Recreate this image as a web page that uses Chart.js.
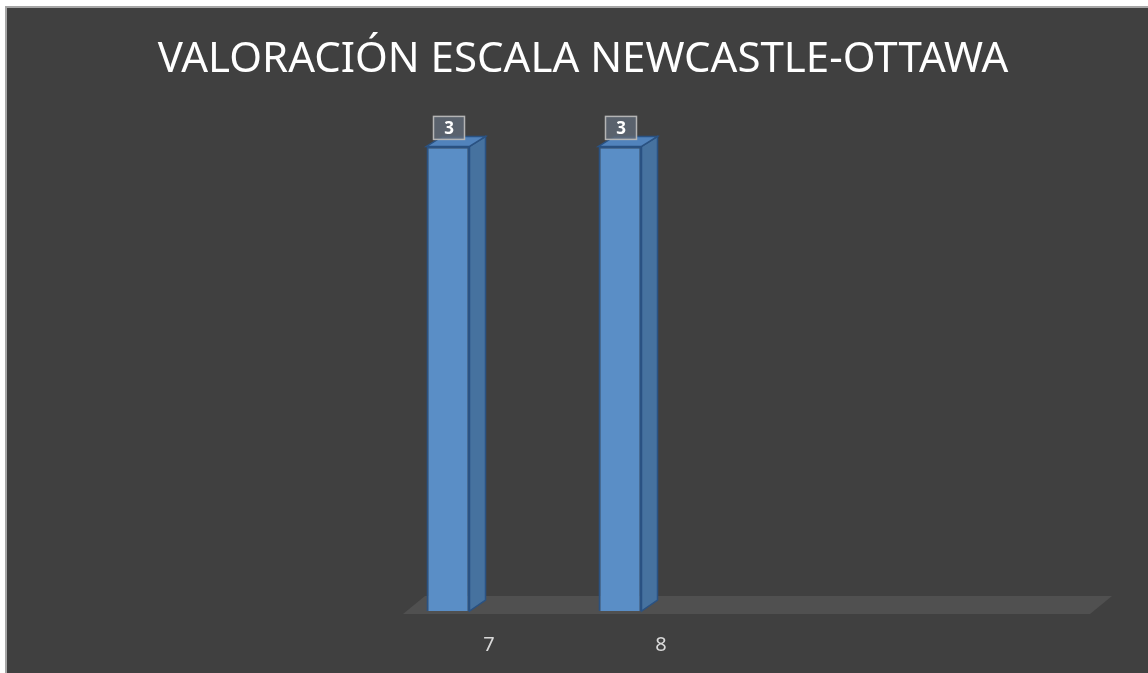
<!DOCTYPE html>
<html>
<head>
<meta charset="utf-8">
<script src="https://cdn.jsdelivr.net/npm/chart.js@4.4.1/dist/chart.umd.min.js"></script>
<style>
  html, body { margin: 0; padding: 0; background: #ffffff; }
  #wrap { position: absolute; left: 0; top: 0; width: 1148px; height: 673px; }
</style>
</head>
<body>
<div id="wrap"><canvas id="grafica-nos" width="1148" height="673"></canvas></div>
<script>
// Datos
var categorias = ['7', '8', '', ''];
var puntuacion = [3, 3, null, null];
var tituloTexto = 'VALORACIÓN ESCALA NEWCASTLE-OTTAWA';

// Fondo oscuro, suelo 3D, caras laterales y etiquetas de valor
var efecto3D = {
    id: 'efecto3D',
    beforeDraw: function (chart) {
        var c = chart.ctx;
        c.save();
        c.fillStyle = '#ffffff';
        c.fillRect(0, 0, chart.width, chart.height);
        c.fillStyle = '#a6a6a6';
        c.fillRect(5, 6, chart.width - 5, chart.height - 6);
        c.fillStyle = '#404040';
        c.fillRect(7, 8, chart.width - 7, chart.height - 8);
        c.restore();
    },
    beforeDatasetsDraw: function (chart) {
        var c = chart.ctx;
        var a = chart.chartArea;
        var base = chart.scales.y.getPixelForValue(0);
        c.save();
        // suelo
        c.fillStyle = '#505050';
        c.beginPath();
        c.moveTo(a.left + 41, base + 3);
        c.lineTo(a.left + 63, base - 15);
        c.lineTo(a.right + 62, base - 15);
        c.lineTo(a.right + 40, base + 3);
        c.closePath();
        c.fill();
        // caras de las barras
        var meta = chart.getDatasetMeta(0);
        meta.data.forEach(function (bar, i) {
            if (puntuacion[i] == null) return;
            var p = bar.getProps(['x', 'y', 'width', 'base'], true);
            var l = p.x - p.width / 2, r = p.x + p.width / 2;
            var dx = 16, dy = 10;
            c.lineWidth = 1.5;
            c.strokeStyle = '#2a5282';
            // lateral
            c.fillStyle = '#46729f';
            c.beginPath();
            c.moveTo(r, p.y);
            c.lineTo(r + dx, p.y - dy);
            c.lineTo(r + dx, p.base - dy - 1);
            c.lineTo(r, p.base);
            c.closePath();
            c.fill();
            c.stroke();
            // superior
            c.fillStyle = '#5183bc';
            c.beginPath();
            c.moveTo(l, p.y);
            c.lineTo(l + dx, p.y - dy);
            c.lineTo(r + dx, p.y - dy);
            c.lineTo(r, p.y);
            c.closePath();
            c.fill();
            c.stroke();
        });
        c.restore();
    },
    afterDatasetsDraw: function (chart) {
        var c = chart.ctx;
        var meta = chart.getDatasetMeta(0);
        c.save();
        meta.data.forEach(function (bar, i) {
            if (puntuacion[i] == null) return;
            var p = bar.getProps(['x', 'y'], true);
            var w = 31, h = 23;
            var x0 = p.x + 1 - w / 2, y0 = p.y - 30;
            c.fillStyle = 'rgba(95, 105, 118, 0.85)';
            c.fillRect(x0, y0, w, h);
            c.strokeStyle = '#b4b4b4';
            c.lineWidth = 1.5;
            c.strokeRect(x0, y0, w, h);
            c.fillStyle = '#ffffff';
            c.font = 'bold 17px "Noto Sans", sans-serif';
            c.textAlign = 'center';
            c.textBaseline = 'middle';
            c.fillText(String(puntuacion[i]), x0 + w / 2, y0 + h / 2 + 1);
        });
        c.restore();
    }
};

var ctx = document.getElementById('grafica-nos').getContext('2d');
var grafica = new Chart(ctx, {
    type: 'bar',
    data: {
        labels: categorias,
        datasets: [{
            label: 'Puntuación',
            data: puntuacion,
            backgroundColor: '#5a8ec6',
            borderColor: '#2a5282',
            borderWidth: 2,
            categoryPercentage: 1,
            barPercentage: 0.25
        }]
    },
    options: {
        responsive: false,
        animation: false,
        devicePixelRatio: 1,
        layout: {
            padding: { left: 18, right: 0, top: 35, bottom: 14 }
        },
        plugins: {
            legend: { display: false },
            tooltip: { enabled: false },
            title: {
                display: true,
                text: tituloTexto,
                color: '#ffffff',
                font: { family: '"Noto Sans", sans-serif', size: 42, weight: 'normal' },
                padding: { top: 0, bottom: 61 },
                position: 'top'
            }
        },
        scales: {
            x: {
                grid: { display: false, drawTicks: false },
                border: { display: false },
                ticks: {
                    color: '#d9d9d9',
                    font: { family: '"Noto Sans", sans-serif', size: 20 },
                    labelOffset: 41,
                    padding: 22
                },
                afterFit: function (scale) { scale.height = 48; }
            },
            y: {
                min: 0,
                max: 3,
                grid: { display: false, drawTicks: false },
                border: { display: false },
                ticks: { display: false },
                afterFit: function (scale) { scale.width = 344; }
            },
            derecha: {
                type: 'linear',
                position: 'right',
                grid: { display: false, drawTicks: false },
                border: { display: false },
                ticks: { display: false },
                afterFit: function (scale) { scale.width = 98; }
            }
        }
    },
    plugins: [efecto3D]
});
</script>
</body>
</html>
